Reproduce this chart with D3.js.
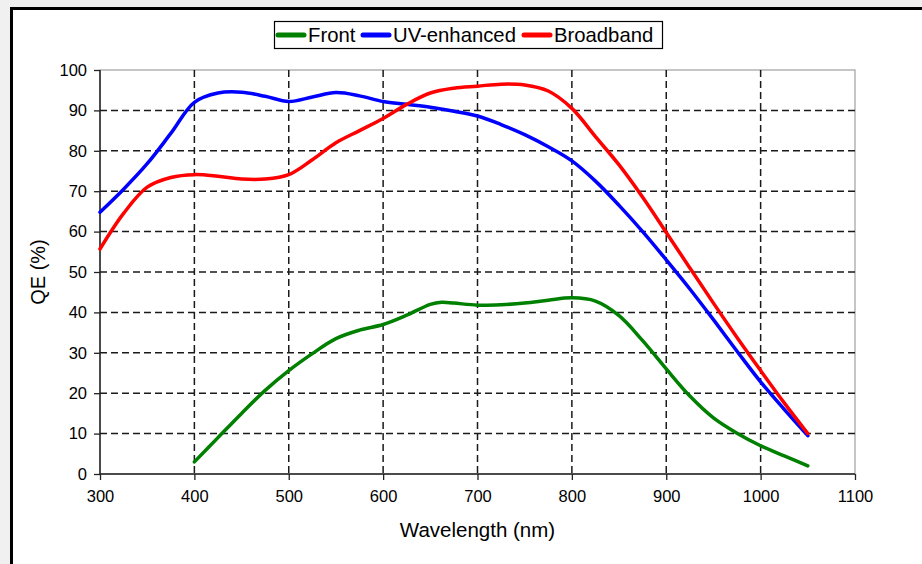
<!DOCTYPE html>
<html>
<head>
<meta charset="utf-8">
<script src="https://cdn.jsdelivr.net/npm/d3@7"></script>
<style>
  html, body { margin: 0; padding: 0; background: #f0f0f0; }
  svg { display: block; }
  text { font-family: "Liberation Sans", Arial, sans-serif; fill: #000; }
</style>
</head>
<body>
<svg id="chart" width="922" height="564"></svg>
<script>
// ---- Data ----
const seriesNames = ["Front", "UV-enhanced", "Broadband"];
const seriesColors = ["#008000", "#0000ff", "#ff0000"];

const frontWl = [400, 425, 450, 475, 500, 525, 550, 575, 600, 625, 650, 662, 675, 700, 725, 750, 775, 800, 825, 850, 875, 900, 925, 950, 975, 1000, 1025, 1050];
const frontQE = [3, 9, 15, 20.7, 25.6, 29.8, 33.5, 35.6, 37, 39.3, 42, 42.5, 42.3, 41.8, 41.9, 42.3, 43, 43.6, 42.8, 39.2, 33, 26, 19.3, 13.9, 10.1, 7, 4.5, 2];

const uvWl = [300, 325, 350, 375, 400, 425, 450, 475, 500, 525, 550, 575, 600, 625, 650, 675, 700, 725, 750, 775, 800, 825, 850, 875, 900, 925, 950, 975, 1000, 1025, 1050];
const uvQE = [64.8, 70.5, 76.8, 84.3, 92, 94.3, 94.5, 93.5, 92.2, 93.3, 94.4, 93.6, 92.2, 91.5, 90.8, 89.8, 88.6, 86.5, 84, 81, 77.5, 72.5, 66.5, 60, 53, 45.8, 38.2, 30.4, 22.8, 16, 9.5];

const bbWl = [300, 325, 350, 375, 400, 425, 450, 475, 500, 525, 550, 575, 600, 625, 650, 675, 700, 725, 750, 775, 800, 825, 850, 875, 900, 925, 950, 975, 1000, 1025, 1050];
const bbQE = [55.7, 64.5, 71, 73.4, 74.1, 73.7, 73, 73, 74.1, 77.8, 82, 85, 88, 91.5, 94.3, 95.5, 96, 96.5, 96.3, 94.8, 90.5, 83.5, 76.5, 68.5, 59.8, 51, 42.3, 33.8, 25.6, 17.6, 10];

const xTicks = [300, 400, 500, 600, 700, 800, 900, 1000, 1100];
const yTicks = [0, 10, 20, 30, 40, 50, 60, 70, 80, 90, 100];
const xTitle = "Wavelength (nm)";
const yTitle = "QE (%)";

// ---- Layout ----
const svg = d3.select("#chart");
const L = 100, R = 855, T = 70, B = 474;

const x = d3.scaleLinear().domain([300, 1100]).range([L, R]);
const y = d3.scaleLinear().domain([0, 100]).range([B, T]);

// outer frame
svg.append("rect").attr("x", 11.5).attr("y", 8.5).attr("width", 1000).attr("height", 1000)
  .attr("fill", "#fff").attr("stroke", "#000").attr("stroke-width", 3);

// plot border (top/right gray)
svg.append("rect").attr("x", L).attr("y", T).attr("width", R - L).attr("height", B - T)
  .attr("fill", "none").attr("stroke", "#a0a0a0").attr("stroke-width", 1.2);

// grid
const grid = svg.append("g").attr("stroke", "#1a1a1a").attr("stroke-width", 1.5).attr("stroke-dasharray", "7,4");
grid.selectAll("line.v").data(xTicks.filter(d => d > 300 && d < 1100)).join("line")
  .attr("x1", d => x(d)).attr("x2", d => x(d)).attr("y1", T).attr("y2", B);
grid.selectAll("line.h").data(yTicks.filter(d => d > 0 && d < 100)).join("line")
  .attr("y1", d => y(d)).attr("y2", d => y(d)).attr("x1", L).attr("x2", R);

// axes
const xAxis = d3.axisBottom(x).tickValues(xTicks).tickSize(6).tickPadding(10).tickFormat(d3.format("d"));
const yAxis = d3.axisLeft(y).tickValues(yTicks).tickSize(6).tickPadding(7).tickFormat(d3.format("d"));

const gx = svg.append("g").attr("transform", `translate(0,${B})`).call(xAxis);
const gy = svg.append("g").attr("transform", `translate(${L},0)`).call(yAxis);
[gx, gy].forEach(g => {
  g.select(".domain").attr("stroke", "#222").attr("stroke-width", 1.5);
  g.selectAll(".tick line").attr("stroke", "#222").attr("stroke-width", 1.3);
  g.selectAll(".tick text").attr("font-size", 16.5).attr("font-family", "Liberation Sans, Arial, sans-serif").attr("fill", "#000");
});
gy.select(".domain").attr("d", `M0,${T}V${B}`);
gx.select(".domain").attr("d", `M${L},0H${R}`);

// titles
svg.append("text").attr("x", (L + R) / 2).attr("y", 537).attr("text-anchor", "middle")
  .attr("font-size", 20.5).text(xTitle);
svg.append("text").attr("transform", `translate(45,${(T + B) / 2}) rotate(-90)`).attr("text-anchor", "middle")
  .attr("font-size", 20).text(yTitle);

// lines
const line = d3.line().x(d => x(d[0])).y(d => y(d[1])).curve(d3.curveCatmullRom.alpha(0.5));
const data = [
  d3.zip(frontWl, frontQE),
  d3.zip(uvWl, uvQE),
  d3.zip(bbWl, bbQE)
];
svg.append("g").selectAll("path").data(data).join("path")
  .attr("d", line).attr("fill", "none")
  .attr("stroke", (d, i) => seriesColors[i]).attr("stroke-width", 3.5)
  .attr("stroke-linejoin", "round").attr("stroke-linecap", "round");

// legend
const lg = svg.append("g");
lg.append("rect").attr("x", 274.5).attr("y", 21.5).attr("width", 388).attr("height", 27)
  .attr("fill", "#fff").attr("stroke", "#000").attr("stroke-width", 1.2);
const legendX = [278, 363, 524];
seriesNames.forEach((name, i) => {
  lg.append("line").attr("x1", legendX[i]).attr("x2", legendX[i] + 26).attr("y1", 35).attr("y2", 35)
    .attr("stroke", seriesColors[i]).attr("stroke-width", 5).attr("stroke-linecap", "round");
  lg.append("text").attr("x", legendX[i] + 30).attr("y", 42).attr("font-size", 20.3).text(name);
});
</script>
</body>
</html>
